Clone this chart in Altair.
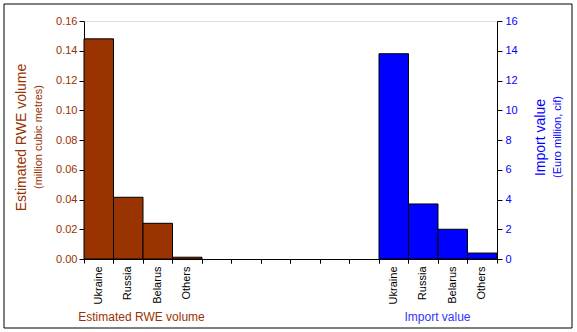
import altair as alt
import pandas as pd

countries = ["Ukraine", "Russia", "Belarus", "Others"]
rwe_volume = [0.148, 0.0415, 0.024, 0.0012]
import_value = [13.8, 3.7, 2.0, 0.4]
left_ticks = [0, 0.02, 0.04, 0.06, 0.08, 0.10, 0.12, 0.14, 0.16]
right_ticks = [0, 2, 4, 6, 8, 10, 12, 14, 16]

BROWN = "#993300"
BLUE = "#0000FF"
FONT = "Liberation Sans"

left_keys = ["A_" + c for c in countries]
right_keys = ["B_" + c for c in countries]
gap_keys = ["gap%d" % i for i in range(1, 7)]
domain = left_keys + gap_keys + right_keys

df_left = pd.DataFrame({"slot": left_keys, "v": rwe_volume})
df_right = pd.DataFrame({"slot": right_keys, "v": import_value})

xscale = alt.Scale(domain=domain, paddingInner=0, paddingOuter=0)
label_expr = "indexof(datum.value,'gap')==0 ? '' : slice(datum.value,2)"

left = alt.Chart(df_left).mark_bar(color=BROWN, stroke="black", strokeWidth=1).encode(
    x=alt.X("slot:N", scale=xscale, sort=domain,
            axis=alt.Axis(orient="bottom", title="Estimated RWE volume", titleColor=BROWN, titleFontSize=12,
                          titleFontWeight="normal", titleFont=FONT,
                          titleX=57, titleY=61, titleBaseline="alphabetic", titleAlign="center",
                          labelExpr=label_expr, labelAngle=270, labelAlign="right",
                          labelBaseline="middle", bandPosition=0,
                          labelFontSize=11, labelFont=FONT, labelColor="black", labelPadding=3,
                          tickSize=4, tickColor="black", domainColor="black")),
    y=alt.Y("v:Q", scale=alt.Scale(domain=[0, 0.16], nice=False),
            axis=alt.Axis(orient="left", values=left_ticks, format=".2f", grid=False,
                          title="Estimated RWE volume", titleColor=BROWN, titleFontSize=14,
                          titleFontWeight="normal", titleFont=FONT, titleAngle=270,
                          titleX=-63, titleY=116, titleAlign="center", titleBaseline="middle",
                          labelColor=BROWN, labelFontSize=11, labelFont=FONT,
                          tickSize=5, tickColor="black", domainColor="black", labelPadding=2)),
)

right = alt.Chart(df_right).mark_bar(color=BLUE, stroke="black", strokeWidth=1).encode(
    x=alt.X("slot:N", scale=xscale, sort=domain,
            axis=alt.Axis(orient="bottom", title="Import value", titleColor="#3333FF", titleFontSize=12,
                          titleFontWeight="normal", titleFont=FONT,
                          titleX=353, titleY=61, titleBaseline="alphabetic", titleAlign="center",
                          labels=False, ticks=True, bandPosition=1, tickSize=4,
                          tickColor="black", domain=False)),
    y=alt.Y("v:Q", scale=alt.Scale(domain=[0, 16], nice=False),
            axis=alt.Axis(orient="right", values=right_ticks, format="d", grid=False,
                          title="Import value", titleColor=BLUE, titleFontSize=14,
                          titleFontWeight="normal", titleFont=FONT, titleAngle=270,
                          titleX=43, titleY=116, titleAlign="center", titleBaseline="middle",
                          labelColor=BLUE, labelFontSize=11, labelFont=FONT,
                          tickSize=5, tickColor="black", domainColor="black", labelPadding=3)),
)

sub_left = alt.Chart(pd.DataFrame({"t": ["(million cubic metres)"]})).mark_text(
    angle=270, font=FONT, fontSize=11, color=BROWN, align="center", baseline="middle"
).encode(text="t:N", x=alt.value(-45), y=alt.value(116))

sub_right = alt.Chart(pd.DataFrame({"t": ["(Euro million, cif)"]})).mark_text(
    angle=270, font=FONT, fontSize=11, color=BLUE, align="center", baseline="middle"
).encode(text="t:N", x=alt.value(474), y=alt.value(116))

frame = alt.Chart(pd.DataFrame({"f": [1]})).mark_rect(fill=None, stroke="black", strokeWidth=1).encode(
    x=alt.value(-80), x2=alt.value(488), y=alt.value(-17), y2=alt.value(307))

chart = alt.layer(left, right, sub_left, sub_right, frame).resolve_scale(
    y="independent"
).resolve_axis(x="independent", y="independent").properties(
    width=413, height=238, autosize="none",
    padding={"left": 84, "top": 21, "right": 80, "bottom": 73},
).configure_view(stroke="#808080", strokeWidth=1).configure(background="white")

chart.save("out.html", embed_options={"renderer": "svg", "actions": False})
